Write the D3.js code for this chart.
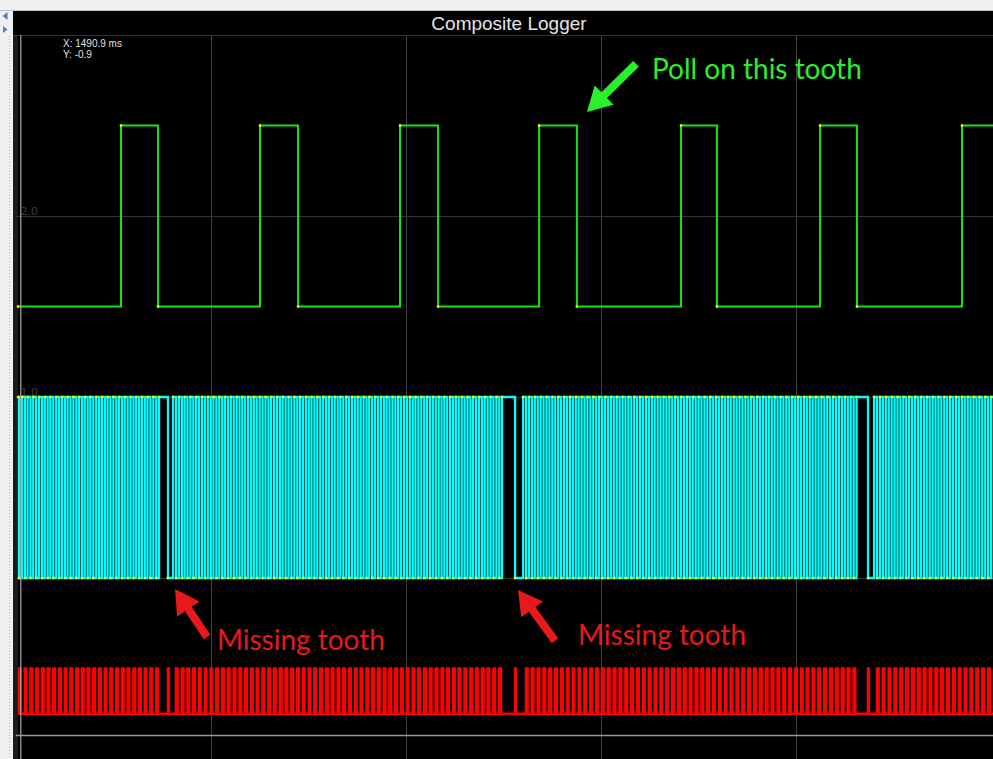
<!DOCTYPE html>
<html>
<head>
<meta charset="utf-8">
<script src="https://cdn.jsdelivr.net/npm/d3@7"></script>
<style>
html, body { margin: 0; padding: 0; background: #f0f0f0; }
svg { display: block; }
</style>
</head>
<body>
<svg id="chart" width="993" height="759"></svg>
<script>
// secondary (cam) trigger: sample times (ms) and the level at each sample
const secondaryTimes = [1.3, 54.1, 73.1, 125.4, 144.9, 197.2, 216.7, 268.5, 287.9, 341.3, 359.7, 412.6, 431.5, 485.4, 502.0];
const secondaryLevels = [1.5, 2.5, 1.5, 2.5, 1.5, 2.5, 1.5, 2.5, 1.5, 2.5, 1.5, 2.5, 1.5, 2.5, 2.5];

// primary (crank) trigger, 60-2 wheel: edge times (ms), alternating high / low
const primaryLevels = [1.0, 0.0];
const primaryEdges = [
  1.3, 1.8, 3.3, 4.8, 6.2, 7.7, 9.1, 10.6, 12.1, 13.6, 15.0, 16.5, 17.9, 19.4, 20.9, 22.4, 23.8, 25.3, 26.7, 28.2,
  29.7, 31.2, 32.6, 34.1, 35.5, 37.0, 38.4, 39.9, 41.4, 42.9, 44.3, 45.8, 47.2, 48.7, 50.2, 51.7, 53.1, 54.6, 56.0, 57.5,
  59.0, 60.5, 61.9, 63.4, 64.8, 66.3, 67.7, 69.2, 70.7, 72.2, 73.6, 78.2,
  80.8, 82.3, 83.8, 85.3, 86.7, 88.2, 89.7, 91.2, 92.6, 94.1, 95.6, 97.1, 98.6, 100.1, 101.5, 103.0, 104.5, 106.0, 107.4, 108.9,
  110.4, 111.9, 113.4, 114.9, 116.3, 117.8, 119.3, 120.8, 122.2, 123.7, 125.2, 126.7, 128.2, 129.7, 131.1, 132.6, 134.1, 135.6, 137.0, 138.5,
  140.0, 141.5, 143.0, 144.5, 145.9, 147.4, 148.9, 150.4, 151.8, 153.3, 154.8, 156.3, 157.8, 159.3, 160.7, 162.2, 163.7, 165.2, 166.6, 168.1,
  169.6, 171.1, 172.6, 174.1, 175.5, 177.0, 178.5, 180.0, 181.4, 182.9, 184.4, 185.9, 187.4, 188.9, 190.3, 191.8, 193.3, 194.8, 196.2, 197.7,
  199.2, 200.7, 202.2, 203.7, 205.1, 206.6, 208.1, 209.6, 211.0, 212.5, 214.0, 215.5, 217.0, 218.5, 219.9, 221.4, 222.9, 224.4, 225.8, 227.3,
  228.8, 230.3, 231.8, 233.3, 234.7, 236.2, 237.7, 239.2, 240.6, 242.1, 243.6, 245.1, 246.6, 248.1, 249.5, 256.2,
  260.3, 261.8, 263.3, 264.8, 266.3, 267.8, 269.3, 270.8, 272.3, 273.8, 275.3, 276.8, 278.3, 279.8, 281.3, 282.8, 284.3, 285.8, 287.3, 288.8,
  290.3, 291.8, 293.3, 294.8, 296.3, 297.8, 299.3, 300.8, 302.3, 303.8, 305.3, 306.8, 308.3, 309.8, 311.3, 312.8, 314.3, 315.8, 317.3, 318.8,
  320.3, 321.8, 323.3, 324.8, 326.3, 327.8, 329.3, 330.8, 332.3, 333.8, 335.3, 336.8, 338.3, 339.8, 341.3, 342.8, 344.3, 345.8, 347.3, 348.8,
  350.3, 351.8, 353.3, 354.8, 356.3, 357.8, 359.3, 360.8, 362.3, 363.8, 365.3, 366.8, 368.3, 369.8, 371.3, 372.8, 374.3, 375.8, 377.3, 378.8,
  380.3, 381.8, 383.3, 384.8, 386.3, 387.8, 389.3, 390.8, 392.3, 393.8, 395.3, 396.8, 398.3, 399.8, 401.3, 402.8, 404.3, 405.8, 407.3, 408.8,
  410.3, 411.8, 413.3, 414.8, 416.3, 417.8, 419.3, 420.8, 422.3, 423.8, 425.3, 426.8, 428.3, 429.8, 431.3, 437.2,
  440.3, 441.8, 443.3, 444.8, 446.3, 447.8, 449.3, 450.8, 452.3, 453.8, 455.3, 456.8, 458.3, 459.8, 461.3, 462.8, 464.3, 465.8, 467.3, 468.8,
  470.3, 471.8, 473.3, 474.8, 476.3, 477.8, 479.3, 480.8, 482.3, 483.8, 485.3, 486.8, 488.3, 489.8, 491.3, 492.8, 494.3, 495.8, 497.3, 498.8,
  500.3, 501.8
];

// composite trace: edge times (ms), alternating low / high
const compositeLevels = [-0.75, -0.5];
const compositeEdges = [
  1.3, 1.8, 2.6, 4.8, 5.6, 7.7, 8.5, 10.6, 11.4, 13.6, 14.4, 16.5, 17.3, 19.4, 20.2, 22.4, 23.2, 25.3, 26.1, 28.2, 29.0,
  31.2, 32.0, 34.1, 34.9, 37.0, 37.8, 39.9, 40.7, 42.9, 43.7, 45.8, 46.6, 48.7, 49.5, 51.7, 52.5, 54.6, 55.4, 57.5, 58.3,
  60.5, 61.3, 63.4, 64.2, 66.3, 67.1, 69.2, 70.0, 72.2, 73.0, 78.2, 78.6,
  82.3, 83.1, 85.3, 86.1, 88.2, 89.0, 91.2, 92.0, 94.1, 94.9, 97.1, 97.9, 100.1, 100.9, 103.0, 103.8, 106.0, 106.8, 108.9, 109.7,
  111.9, 112.7, 114.9, 115.7, 117.8, 118.6, 120.8, 121.6, 123.7, 124.5, 126.7, 127.5, 129.7, 130.5, 132.6, 133.4, 135.6, 136.4, 138.5, 139.3,
  141.5, 142.3, 144.5, 145.3, 147.4, 148.2, 150.4, 151.2, 153.3, 154.1, 156.3, 157.1, 159.3, 160.1, 162.2, 163.0, 165.2, 166.0, 168.1, 168.9,
  171.1, 171.9, 174.1, 174.9, 177.0, 177.8, 180.0, 180.8, 182.9, 183.7, 185.9, 186.7, 188.9, 189.7, 191.8, 192.6, 194.8, 195.6, 197.7, 198.5,
  200.7, 201.5, 203.7, 204.5, 206.6, 207.4, 209.6, 210.4, 212.5, 213.3, 215.5, 216.3, 218.5, 219.3, 221.4, 222.2, 224.4, 225.2, 227.3, 228.1,
  230.3, 231.1, 233.3, 234.1, 236.2, 237.0, 239.2, 240.0, 242.1, 242.9, 245.1, 245.9, 248.1, 248.9, 256.2, 256.6,
  261.8, 262.6, 264.8, 265.6, 267.8, 268.6, 270.8, 271.6, 273.8, 274.6, 276.8, 277.6, 279.8, 280.6, 282.8, 283.6, 285.8, 286.6, 288.8, 289.6,
  291.8, 292.6, 294.8, 295.6, 297.8, 298.6, 300.8, 301.6, 303.8, 304.6, 306.8, 307.6, 309.8, 310.6, 312.8, 313.6, 315.8, 316.6, 318.8, 319.6,
  321.8, 322.6, 324.8, 325.6, 327.8, 328.6, 330.8, 331.6, 333.8, 334.6, 336.8, 337.6, 339.8, 340.6, 342.8, 343.6, 345.8, 346.6, 348.8, 349.6,
  351.8, 352.6, 354.8, 355.6, 357.8, 358.6, 360.8, 361.6, 363.8, 364.6, 366.8, 367.6, 369.8, 370.6, 372.8, 373.6, 375.8, 376.6, 378.8, 379.6,
  381.8, 382.6, 384.8, 385.6, 387.8, 388.6, 390.8, 391.6, 393.8, 394.6, 396.8, 397.6, 399.8, 400.6, 402.8, 403.6, 405.8, 406.6, 408.8, 409.6,
  411.8, 412.6, 414.8, 415.6, 417.8, 418.6, 420.8, 421.6, 423.8, 424.6, 426.8, 427.6, 429.8, 430.6, 437.2, 437.6,
  441.8, 442.6, 444.8, 445.6, 447.8, 448.6, 450.8, 451.6, 453.8, 454.6, 456.8, 457.6, 459.8, 460.6, 462.8, 463.6, 465.8, 466.6, 468.8, 469.6,
  471.8, 472.6, 474.8, 475.6, 477.8, 478.6, 480.8, 481.6, 483.8, 484.6, 486.8, 487.6, 489.8, 490.6, 492.8, 493.6, 495.8, 496.6, 498.8, 499.6,
  501.8
];

const yTicks = [0, 1, 2, 3];
const yTickLabels = ["0.0", "1.0", "2.0", "3.0"];
const xGrid = [100, 200, 300, 400];

const cursor = {t: 2.7, v: -0.87, xText: "X: 1490.9 ms", yText: "Y: -0.9"};

// callouts, in data units (ms, value)
const notes = [
  {text: "Poll on this tooth", color: "#2bef2b", tip: [293.1, 2.575], tail: [318.2, 2.84], label: [326.4, 2.757]},
  {text: "Missing tooth", color: "#e8191b", tip: [81.8, -0.061], tail: [98.2, -0.326], label: [103.3, -0.398]},
  {text: "Missing tooth", color: "#e8191b", tip: [257.7, -0.066], tail: [276.7, -0.348], label: [288.5, -0.37]}
];

const W = 993, H = 759;
const svg = d3.select("#chart");

const x = d3.scaleLinear().domain([0, 500]).range([15.5, 990.5]);
const y = d3.scaleLinear().domain([-1, 3]).range([759, 35]);

// window chrome
svg.append("rect").attr("width", W).attr("height", H).attr("fill", "#f0f0f0");
svg.append("rect").attr("x", 13).attr("y", 11).attr("width", W - 13).attr("height", H - 11).attr("fill", "#000");
svg.append("line").attr("x1", 0).attr("x2", W).attr("y1", 10.5).attr("y2", 10.5)
  .attr("stroke", "#b9c6d4");
svg.append("line").attr("x1", 9.5).attr("x2", 9.5).attr("y1", 36).attr("y2", H)
  .attr("stroke", "#b4b4b4").attr("stroke-dasharray", "1,2");
svg.append("rect").attr("x", 13).attr("y", 35).attr("width", 5).attr("height", H - 35).attr("fill", "#1b1b1b");
svg.append("path").attr("d", "M2.5,16 L7.5,12 L7.5,20 Z").attr("fill", "#5a7fb4");
svg.append("path").attr("d", "M3,26 L7.5,29.5 L3,33 Z").attr("fill", "#5a7fb4");

svg.append("text")
  .attr("x", 509).attr("y", 30)
  .attr("text-anchor", "middle")
  .attr("fill", "#e4e4e4")
  .style("font", "19px 'Liberation Sans', Arial, sans-serif")
  .text("Composite Logger");
svg.append("line").attr("x1", 13).attr("x2", W).attr("y1", 35.5).attr("y2", 35.5)
  .attr("stroke", "#3a3a3a");

svg.append("defs").append("clipPath").attr("id", "plotClip")
  .append("rect").attr("x", x(0)).attr("y", y(3)).attr("width", W - x(0)).attr("height", H - y(3));

const plot = svg.append("g").attr("clip-path", "url(#plotClip)");

// grid
plot.append("g").selectAll("line")
  .data(xGrid)
  .enter()
  .append("line")
  .attr("x1", d => Math.round(x(d)) + 0.5).attr("x2", d => Math.round(x(d)) + 0.5)
  .attr("y1", y(3)).attr("y2", y(-1))
  .attr("stroke", "#424242");

plot.append("g").selectAll("line")
  .data(yTicks)
  .enter()
  .append("line")
  .attr("x1", x(0)).attr("x2", W)
  .attr("y1", d => Math.round(y(d)) + 0.5).attr("y2", d => Math.round(y(d)) + 0.5)
  .attr("stroke", "#333");

plot.append("g").selectAll("text")
  .data(yTicks)
  .enter()
  .append("text")
  .attr("x", x(0) + 5)
  .attr("y", d => y(d) - 1)
  .attr("fill", "#3e3e3e")
  .style("font", "11px 'DejaVu Sans', sans-serif")
  .text((d, i) => yTickLabels[i]);

// series
function toPoints(times, levelAt){
  return times.map((t, i) => ({t: t, v: levelAt(i)}));
}
const secondary = toPoints(secondaryTimes, i => secondaryLevels[i]);
const primary = toPoints(primaryEdges, i => primaryLevels[i % 2]);
const composite = toPoints(compositeEdges, i => compositeLevels[i % 2]);

const step = d3.line()
  .curve(d3.curveStepAfter)
  .x(d => x(d.t))
  .y(d => y(d.v));

plot.append("path").attr("d", step(secondary))
  .attr("fill", "none").attr("stroke", "#14e614").attr("stroke-width", 2);
plot.append("path").attr("d", step(primary))
  .attr("fill", "none").attr("stroke", "#00ffff").attr("stroke-width", 2.3);
plot.append("path").attr("d", step(composite))
  .attr("fill", "none").attr("stroke", "#ff0000").attr("stroke-width", 2.6);

// sample markers
[secondary, primary].forEach(function(series){
  plot.append("g").selectAll("rect")
    .data(series)
    .enter()
    .append("rect")
    .attr("x", d => x(d.t) - 1.2)
    .attr("y", d => y(d.v) - 1.2)
    .attr("width", 2.4)
    .attr("height", 2.4)
    .attr("fill", "#ffff00");
});

// cursor
plot.append("line")
  .attr("x1", x(cursor.t)).attr("x2", x(cursor.t))
  .attr("y1", y(3)).attr("y2", H)
  .attr("stroke", "#a8a8a8").attr("stroke-width", 1.2);
plot.append("line")
  .attr("x1", x(0)).attr("x2", W)
  .attr("y1", y(cursor.v)).attr("y2", y(cursor.v))
  .attr("stroke", "#9a9a9a").attr("stroke-width", 1.5);

svg.append("text").attr("x", 63).attr("y", 47)
  .attr("fill", "#e0e0e0").style("font", "10px 'Liberation Sans', Arial, sans-serif")
  .text(cursor.xText);
svg.append("text").attr("x", 63).attr("y", 58)
  .attr("fill", "#e0e0e0").style("font", "10px 'Liberation Sans', Arial, sans-serif")
  .text(cursor.yText);

// callouts
function arrowShape(x1, y1, x2, y2){
  const shaft = 8, headW = 27, headL = 24;
  const len = Math.hypot(x2 - x1, y2 - y1);
  const ux = (x2 - x1) / len, uy = (y2 - y1) / len;
  const px = -uy, py = ux;
  const bx = x2 - ux * headL, by = y2 - uy * headL;
  const pts = [
    [x1 + px * shaft / 2, y1 + py * shaft / 2],
    [bx + px * shaft / 2, by + py * shaft / 2],
    [bx + px * headW / 2, by + py * headW / 2],
    [x2, y2],
    [bx - px * headW / 2, by - py * headW / 2],
    [bx - px * shaft / 2, by - py * shaft / 2],
    [x1 - px * shaft / 2, y1 - py * shaft / 2]
  ];
  return "M" + pts.map(p => p[0].toFixed(1) + "," + p[1].toFixed(1)).join("L") + "Z";
}

const callouts = svg.append("g").selectAll("g")
  .data(notes)
  .enter()
  .append("g");

callouts.append("path")
  .attr("d", d => arrowShape(x(d.tail[0]), y(d.tail[1]), x(d.tip[0]), y(d.tip[1])))
  .attr("fill", d => d.color);

callouts.append("text")
  .attr("x", d => x(d.label[0]))
  .attr("y", d => y(d.label[1]))
  .attr("fill", d => d.color)
  .style("font", "28px Lato, 'Open Sans', sans-serif")
  .text(d => d.text);
</script>
</body>
</html>
